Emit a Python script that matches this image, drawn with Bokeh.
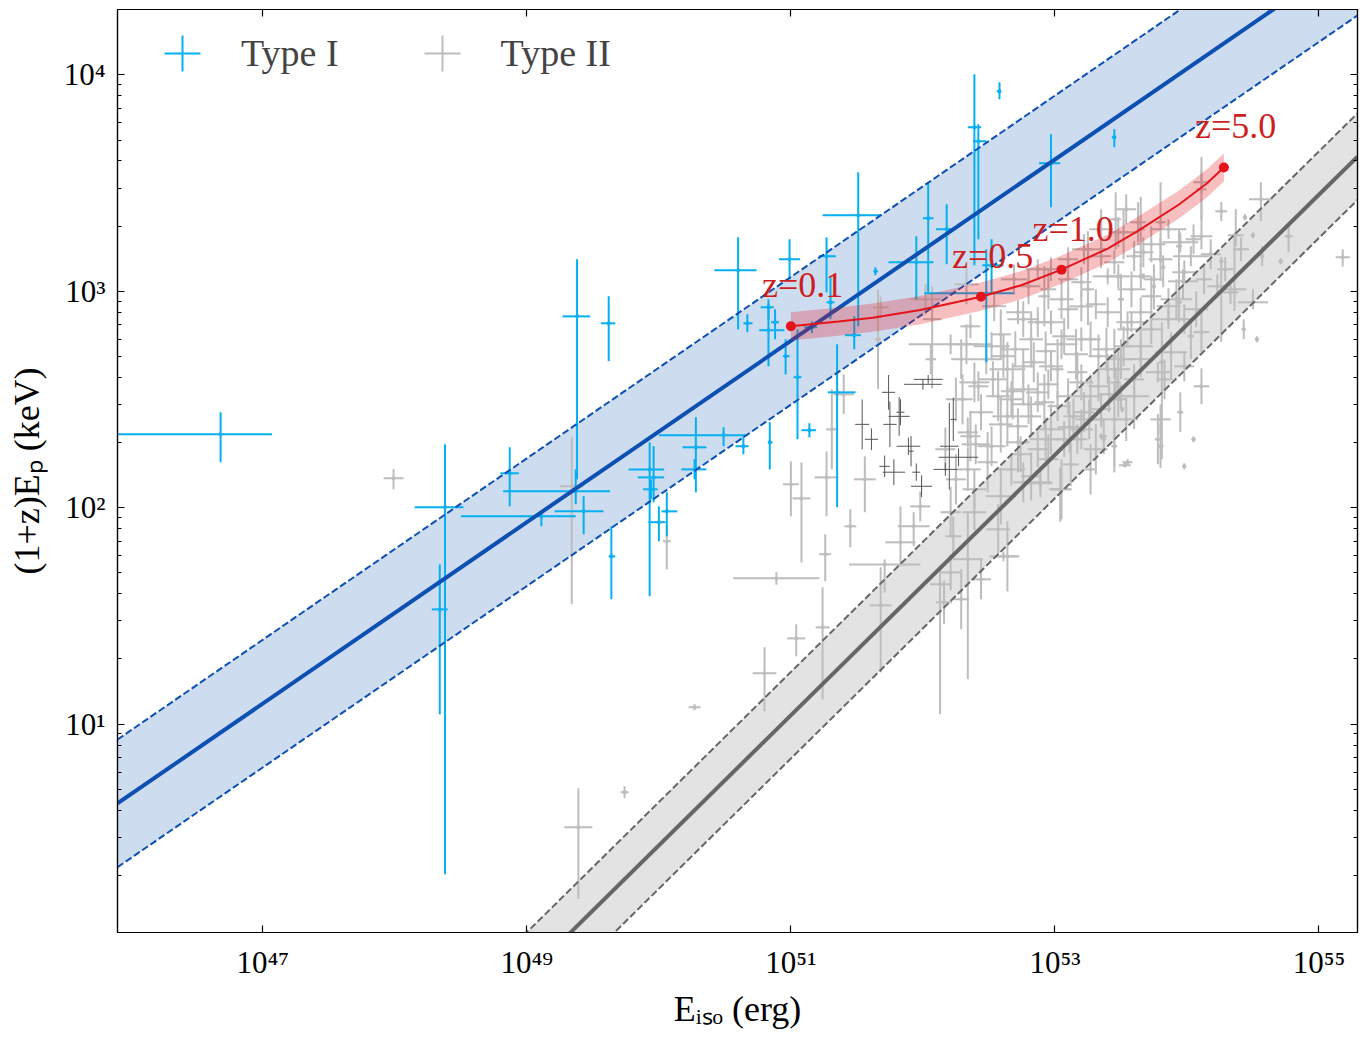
import numpy as np
from bokeh.plotting import figure
from bokeh.models import (Range1d, FixedTicker, LogAxis, CustomJSTickFormatter,
                          ColumnDataSource, Legend, LegendItem)
from bokeh.core.properties import value
from bokeh.embed import file_html
from bokeh.resources import INLINE

# ---------------- axes (log10 limits and ticks) ----------------
X_LOG_MIN, X_LOG_MAX = 45.899, 55.292
Y_LOG_MIN, Y_LOG_MAX = 0.037, 4.302
X_TICKS = [1e47, 1e49, 1e51, 1e53, 1e55]
Y_TICKS = [1e1, 1e2, 1e3, 1e4]
Y_DECADES = [1e0, 1e1, 1e2, 1e3, 1e4]
Y_MINOR_MULT = [2, 3, 4, 5, 6, 7, 8, 9]

# ---------------- Type I GRBs (log10 values) ----------------
t1_logE = [46.68, 48.38, 48.34, 48.87, 49.11, 49.38, 49.37, 49.43, 49.64, 49.62,
           49.93, 49.96, 49.94, 50.00, 50.06, 50.28, 50.27, 50.49, 50.64, 50.84,
           50.60, 50.67, 50.83, 50.83, 50.88, 50.96, 51.05, 51.14, 50.99, 51.27,
           51.30, 51.16, 51.35, 51.48, 51.64, 51.51, 52.04, 52.18, 51.95, 52.48,
           52.52, 52.39, 52.42, 52.58, 52.97, 53.45]
t1_logE_lo = [45.60, 48.15, 48.28, 48.80, 48.50, 49.27, 48.82, 49.21, 49.62, 49.56,
              49.77, 49.84, 49.88, 49.92, 50.02, 50.18, 50.17, 50.00, 50.58, 50.83,
              50.42, 50.64, 50.76, 50.77, 50.85, 50.94, 51.02, 51.08, 50.91, 51.21,
              51.27, 51.10, 51.28, 51.41, 51.63, 51.24, 52.00, 52.10, 51.74, 52.01,
              52.45, 52.34, 52.38, 52.56, 52.88, 53.43]
t1_logE_hi = [47.07, 48.52, 48.40, 48.94, 49.37, 49.48, 49.63, 49.58, 49.67, 49.67,
              50.04, 50.04, 49.99, 50.05, 50.14, 50.36, 50.36, 50.66, 50.68, 50.86,
              50.74, 50.71, 50.95, 50.87, 50.91, 50.99, 51.08, 51.19, 51.07, 51.34,
              51.33, 51.20, 51.49, 51.53, 51.66, 51.68, 52.08, 52.23, 52.08, 52.69,
              52.61, 52.44, 52.48, 52.59, 53.04, 53.46]
t1_logEp = [2.339, 2.002, 1.530, 2.159, 1.960, 2.884, 2.076, 1.983, 1.775, 2.852,
            2.177, 2.140, 2.085, 1.933, 1.983, 2.279, 2.177, 2.335, 2.284, 2.302,
            3.097, 2.852, 2.820, 2.926, 2.857, 2.700, 2.603, 2.358, 3.148, 3.162,
            2.949, 2.834, 2.533, 2.797, 3.092, 3.351, 3.337, 3.287, 3.134, 2.991,
            3.120, 3.758, 3.693, 3.924, 3.591, 3.712]
t1_logEp_lo = [2.210, 0.306, 1.045, 2.006, 1.914, 2.131, 2.016, 1.877, 1.577, 2.677,
               1.591, 2.025, 2.039, 1.845, 1.868, 2.071, 2.131, 2.284, 2.247, 2.177,
               2.824, 2.811, 2.653, 2.871, 2.778, 2.616, 2.316, 2.325, 3.055, 2.995,
               2.871, 2.806, 2.002, 2.732, 3.074, 2.838, 2.995, 3.125, 2.963, 2.672,
               2.995, 3.120, 3.240, 3.887, 3.388, 3.665]
t1_logEp_hi = [2.441, 2.293, 1.738, 2.279, 1.979, 3.148, 2.177, 2.053, 1.914, 2.977,
               2.302, 2.284, 2.131, 2.006, 2.071, 2.418, 2.224, 2.372, 2.330, 2.395,
               3.250, 2.894, 2.940, 2.963, 2.917, 2.778, 2.824, 2.390, 3.240, 3.250,
               3.069, 2.861, 2.755, 2.884, 3.111, 3.550, 3.504, 3.402, 3.254, 3.194,
               3.240, 4.003, 3.772, 3.966, 3.726, 3.749]

# ---------------- Type II GRBs, scattered ones (log10, asymmetric dex errors) ----------------
t2a_logE = [47.99, 49.34, 50.06, 49.39, 49.74, 50.27, 50.80, 51.04, 51.24, 51.68,
            52.13, 50.89, 51.71, 51.00, 51.08, 51.27, 51.26, 51.45, 51.56, 52.34,
            52.61, 53.04, 52.89, 51.93, 51.83, 51.98, 52.21, 52.06, 52.33, 52.02,
            51.68, 51.66, 52.07, 51.40, 51.31, 55.18, 54.56, 54.26, 54.11, 54.44,
            54.50, 54.37, 54.77, 54.71, 54.57, 54.26, 54.50, 54.43, 54.53, 54.36,
            53.81, 53.53, 53.45, 53.37, 53.51, 53.65, 53.46, 53.86, 54.11, 54.03,
            53.94, 53.97, 53.94, 53.82, 53.67, 53.75, 53.86, 54.03, 53.88, 53.78,
            53.60, 53.46, 53.35, 53.45, 53.58, 53.50, 53.40, 53.35, 53.52]
t2a_logEp = [2.136, 2.099, 1.845, 0.523, 0.685, 1.078, 1.235, 1.396, 1.447, 1.549,
             1.646, 1.674, 1.738, 2.108, 2.043, 2.140, 1.785, 1.914, 2.131, 1.762,
             1.775, 2.085, 2.113, 1.914, 1.840, 2.006, 2.755, 2.686, 3.032, 2.963,
             2.926, 2.778, 2.871, 2.524, 2.362, 3.157, 3.425, 3.370, 3.471, 3.342,
             3.259, 3.259, 3.254, 3.139, 3.162, 3.139, 2.949, 2.824, 2.778, 3.009,
             2.672, 2.196, 2.408, 2.316, 2.455, 3.287, 3.333, 3.287, 3.254, 3.162,
             3.208, 3.046, 2.949, 3.111, 3.069, 3.023, 2.871, 2.792, 2.718, 2.626,
             2.515, 2.579, 2.408, 2.700, 2.857, 2.963, 3.069, 3.194, 3.273]
t2a_ex = [.076, .09, .03, .106, .03, .045, .09, .068, .053, .083,
          .076, .326, .27, .06, .068, .09, .045, .045, .083, .114,
          .106, .083, .09, .12, .114, .076, .318, .04, .09, .114,
          .06, .02, .07, .076, .045, .053, .09, .045, .038, .015,
          .015, .06, .03, .015, .015, .015, .114, .015, .015, .09,
          .023, .045, .023, .015, .015, .03, .04, .136, .083, .136,
          .023, .114, .023, .015, .015, .015, .13, .023, .12, .09,
          .114, .04, .09, .023, .114, .023, .114, .038, .114]
t2a_ey_dn = [.051, .545, .13, .33, .028, .014, .175, .083, .333, .31,
             .60, .03, .13, .148, .296, .18, .125, .097, .152, .555,
             .023, .15, .037, .092, .111, .069, .046, .07, .092, .069,
             .05, .23, .32, .092, .185, .042, .10, .046, .14, .014,
             .014, .05, .074, .014, .046, .374, .032, .046, .014, .10,
             .448, .01, .245, .014, .014, .17, .14, .046, .06, .046,
             .20, .083, .092, .092, .014, .106, .046, .106, .125, .046,
             .152, .069, .037, .106, .046, .139, .037, .069, .125]
t2a_ey_up = [.042, .226, .07, .18, .028, .014, .12, .065, .185, .176,
             .083, .028, .023, .106, .166, .12, .092, .079, .106, .217,
             .023, .10, .037, .065, .166, .069, .046, .07, .092, .069,
             .05, .23, .15, .092, .185, .037, .079, .042, .15, .014,
             .014, .12, .055, .014, .046, .02, .06, .046, .014, .263,
             .185, .01, .171, .014, .014, .15, .125, .046, .171, .046,
             .08, .055, .06, .055, .014, .08, .046, .08, .092, .046,
             .092, .069, .037, .125, .046, .116, .037, .069, .106]

# ---------------- Type II GRBs, dense core (log10, symmetric dex errors) ----------------
t2b_logE = [52.69, 52.76, 52.92, 52.97, 53.10, 53.25, 53.20, 53.40, 53.33, 52.52,
            52.64, 52.84, 53.02, 53.20, 53.40, 52.39, 52.57, 52.76, 52.92, 53.10,
            53.27, 52.44, 52.64, 52.82, 52.97, 53.14, 52.36, 52.52, 52.72, 52.87,
            52.34, 52.49, 52.67, 52.82, 52.39, 52.59, 52.21, 52.39, 52.76, 52.57,
            52.23, 52.64, 52.29, 52.21, 53.05, 52.89, 53.20, 53.35, 53.50, 53.48,
            53.60, 53.65, 53.55, 53.65, 53.73, 53.55, 53.45, 53.35, 53.20, 53.10,
            52.97, 53.25, 53.45, 53.60, 53.65, 52.80, 52.54, 52.36, 54.11, 53.95,
            54.05, 53.80, 53.67, 53.63, 53.48, 53.35, 53.22, 53.10, 52.95, 52.87,
            53.20, 53.48, 53.75, 53.98, 54.13, 54.23, 54.33, 53.86, 53.98, 54.11,
            53.73, 53.52, 53.65, 53.83, 53.98, 54.11, 53.95, 53.80, 53.78, 54.05,
            53.98, 53.80, 53.07, 52.87, 52.72, 52.29, 52.61, 52.76, 52.97, 53.17,
            53.33, 53.48, 52.87, 53.02, 53.22, 52.67, 52.42, 52.25, 52.72, 53.07,
            53.17, 53.37, 52.17, 52.34, 52.25, 52.95, 53.12, 53.27, 52.44, 52.16]
t2b_logEp = [3.055, 2.871, 2.977, 2.857, 2.917, 3.009, 2.778, 2.903, 2.700, 2.746,
             2.640, 2.672, 2.640, 2.579, 2.640, 2.579, 2.515, 2.547, 2.487, 2.515,
             2.515, 2.441, 2.422, 2.422, 2.362, 2.422, 2.330, 2.284, 2.302, 2.270,
             2.177, 2.210, 2.177, 2.145, 2.085, 2.053, 1.979, 1.979, 2.117, 1.900,
             1.868, 1.775, 1.577, 1.701, 2.085, 2.117, 2.362, 2.455, 2.515, 2.640,
             2.593, 2.746, 2.824, 2.903, 2.977, 2.210, 2.284, 2.330, 2.930, 3.055,
             3.102, 3.194, 3.134, 3.162, 3.069, 3.023, 2.931, 2.838, 3.504, 3.226,
             3.240, 3.319, 3.180, 3.319, 3.273, 3.162, 3.194, 3.148, 3.009, 3.102,
             3.042, 3.069, 3.055, 3.088, 3.055, 3.023, 2.995, 2.931, 2.871, 2.811,
             2.824, 2.746, 2.686, 2.593, 2.653, 2.561, 2.441, 2.408, 2.316, 2.316,
             2.191, 2.284, 2.792, 2.857, 2.903, 2.686, 2.700, 2.653, 2.653, 2.626,
             2.561, 2.501, 2.533, 2.469, 2.441, 2.501, 2.561, 2.501, 2.376, 2.316,
             2.316, 2.330, 2.270, 2.348, 2.131, 2.224, 2.200, 2.177, 1.669, 1.563]
t2b_ex = [.098, .12, .045, .098, .076, .045, .114, .098, .076, .136,
          .136, .09, .045, .09, .076, .114, .09, .106, .076, .09,
          .068, .09, .114, .076, .106, .076, .076, .106, .09, .076,
          .098, .076, .106, .076, .09, .114, .076, .09, .076, .09,
          .06, .09, .06, .076, .076, .09, .09, .076, .076, .09,
          .076, .09, .076, .09, .076, .038, .023, .015, .09, .076,
          .106, .038, .076, .06, .076, .09, .09, .076, .06, .136,
          .06, .038, .076, .06, .076, .076, .09, .076, .06, .09,
          .076, .09, .076, .09, .06, .076, .06, .09, .076, .06,
          .09, .076, .09, .06, .076, .06, .023, .076, .023, .015,
          .015, .023, .09, .076, .09, .076, .09, .076, .09, .076,
          .076, .06, .09, .076, .076, .09, .076, .076, .076, .076,
          .076, .023, .076, .076, .076, .076, .06, .045, .076, .06]
t2b_ey = [.069, .083, .139, .055, .092, .166, .055, .069, .10, .065,
          .125, .092, .139, .083, .069, .092, .116, .074, .13, .083,
          .10, .083, .139, .092, .116, .083, .116, .092, .139, .083,
          .10, .139, .074, .111, .092, .13, .116, .083, .092, .116,
          .092, .162, .139, .083, .139, .069, .092, .074, .055, .092,
          .069, .10, .083, .069, .092, .014, .092, .014, .069, .092,
          .055, .083, .055, .069, .055, .083, .069, .055, .055, .046,
          .069, .185, .069, .092, .069, .055, .069, .055, .092, .046,
          .069, .055, .069, .055, .069, .055, .055, .083, .069, .092,
          .069, .092, .083, .092, .069, .083, .092, .069, .116, .014,
          .014, .10, .083, .069, .055, .092, .10, .083, .069, .092,
          .069, .083, .092, .069, .092, .083, .069, .10, .083, .083,
          .069, .083, .10, .069, .116, .116, .10, .116, .092, .10]

# ---------------- Type II GRBs, more of the crowded core (log10, symmetric dex errors) ----------------
t2c_logE = [52.33, 52.48, 52.59, 52.70, 52.82, 52.93, 53.05, 53.16, 53.27, 53.39,
            53.50, 52.30, 52.53, 52.68, 52.80, 52.95, 53.11, 53.26, 53.41, 53.54,
            52.40, 52.59, 52.74, 52.93, 53.31, 53.05, 53.31, 53.58, 53.80, 53.92,
            54.18, 54.07, 54.29, 53.35, 53.54, 53.73, 54.41]
t2c_logEp = [2.755, 2.686, 2.801, 2.732, 2.778, 2.723, 2.755, 2.709, 2.778, 2.732,
             2.686, 2.501, 2.593, 2.538, 2.478, 2.570, 2.372, 2.408, 2.524, 2.408,
             2.293, 2.385, 2.247, 2.316, 2.270, 2.963, 2.940, 3.009, 3.148, 2.963,
             3.171, 2.917, 3.102, 3.287, 3.379, 3.217, 3.194]
t2c_ex = [.09, .12, .076, .106, .09, .076, .12, .09, .076, .106,
          .09, .076, .106, .09, .12, .076, .09, .106, .076, .09,
          .106, .09, .076, .12, .09, .09, .076, .106, .09, .12,
          .076, .09, .06, .09, .076, .106, .06]
t2c_ey = [.092, .069, .116, .083, .13, .092, .069, .116, .083, .10,
          .092, .116, .083, .13, .092, .069, .116, .092, .083, .10,
          .092, .13, .083, .10, .116, .092, .069, .083, .10, .092,
          .069, .083, .055, .092, .069, .083, .055]

# ---------------- thin dark error bars (log10, symmetric dex errors) ----------------
t3_logE = [52.00, 51.82, 51.75, 51.78, 51.91, 51.99, 52.20, 52.27, 52.17, 52.23,
           51.74, 51.83, 52.04, 51.89, 51.71, 51.95, 51.61, 51.54]
t3_logEp = [2.570, 2.422, 2.385, 2.164, 2.261, 2.099, 2.284, 2.233, 2.177, 2.408,
            2.533, 2.441, 2.593, 2.284, 2.191, 2.164, 2.316, 2.385]
t3_ex = [.144, .08, .05, .085, .02, .08, .07, .15, .09, .02,
         .05, .03, .11, .09, .04, .03, .05, .053]
t3_ey = [.025, .09, .105, .06, .07, .05, .20, .04, .03, .10,
         .08, .06, .02, .04, .05, .04, .05, .115]

# ---------------- fitted correlations (log10 Ep = norm + slope*(log10 E - pivot)) ----------------
T1_SLOPE, T1_PIVOT, T1_NORM, T1_SIG = 0.419, 47.895, 1.470, 0.295
T2_SLOPE, T2_PIVOT, T2_NORM, T2_SIG = 0.6014, 49.334, 0.039, 0.200

# ---------------- redshift track (log10 values) ----------------
track_logE = [51.00, 51.36, 51.62, 51.98, 52.44, 52.75, 53.05, 53.40, 53.62, 53.94, 54.15, 54.28]
track_logEp = [2.838, 2.860, 2.878, 2.913, 2.975, 3.029, 3.100, 3.197, 3.276, 3.401, 3.498, 3.572]
TRACK_SIG = 0.065
z_labels = ["z=0.1", "z=0.5", "z=1.0", "z=5.0"]
z_logE = [51.00, 52.44, 53.05, 54.28]
z_logEp = [2.838, 2.975, 3.100, 3.572]

# ---------------- styles ----------------
FONT = "Liberation Serif"
C_T1 = "#05aff0"
C_T2 = "#bdbdbd"
C_T3 = "#555555"
C_FIT1 = "#0b50b2"
C_FIT2 = "#666666"
C_RED = "#e5141a"
C_RED_TXT = "#cc1f1f"


def p10(a):
    return np.power(10.0, np.asarray(a, dtype=float))


def seg_source(lx, lxlo, lxhi, ly, lylo, lyhi):
    lx, lxlo, lxhi = map(np.asarray, (lx, lxlo, lxhi))
    ly, lylo, lyhi = map(np.asarray, (ly, lylo, lyhi))
    x0 = np.concatenate([p10(lxlo), p10(lx)])
    x1 = np.concatenate([p10(lxhi), p10(lx)])
    y0 = np.concatenate([p10(ly), p10(lylo)])
    y1 = np.concatenate([p10(ly), p10(lyhi)])
    return ColumnDataSource(dict(x0=x0, x1=x1, y0=y0, y1=y1))


p = figure(x_axis_type="log", y_axis_type="log",
           x_range=Range1d(10 ** X_LOG_MIN, 10 ** X_LOG_MAX),
           y_range=Range1d(10 ** Y_LOG_MIN, 10 ** Y_LOG_MAX),
           frame_width=1240, frame_height=923,
           min_border_left=117, min_border_right=4, min_border_top=9, min_border_bottom=88,
           output_backend="svg", toolbar_location=None,
           background_fill_color="white", border_fill_color="white")
p.xgrid.visible = False
p.ygrid.visible = False
p.outline_line_color = "black"
p.outline_line_width = 1.2

xs = np.array([X_LOG_MIN, X_LOG_MAX])
fit1 = T1_NORM + T1_SLOPE * (xs - T1_PIVOT)
fit2 = T2_NORM + T2_SLOPE * (xs - T2_PIVOT)

# bands
p.varea(x=p10(xs), y1=p10(fit1 - T1_SIG), y2=p10(fit1 + T1_SIG), fill_color=C_FIT1, fill_alpha=0.2)
p.varea(x=p10(xs), y1=p10(fit2 - T2_SIG), y2=p10(fit2 + T2_SIG), fill_color="#9a9a9a", fill_alpha=0.28)

# Type II error bars
a = np.asarray
src2a = seg_source(t2a_logE, a(t2a_logE) - a(t2a_ex), a(t2a_logE) + a(t2a_ex),
                   t2a_logEp, a(t2a_logEp) - a(t2a_ey_dn), a(t2a_logEp) + a(t2a_ey_up))
src2b = seg_source(t2b_logE, a(t2b_logE) - a(t2b_ex), a(t2b_logE) + a(t2b_ex),
                   t2b_logEp, a(t2b_logEp) - a(t2b_ey), a(t2b_logEp) + a(t2b_ey))
src2c = seg_source(t2c_logE, a(t2c_logE) - a(t2c_ex), a(t2c_logE) + a(t2c_ex),
                   t2c_logEp, a(t2c_logEp) - a(t2c_ey), a(t2c_logEp) + a(t2c_ey))
src3 = seg_source(t3_logE, a(t3_logE) - a(t3_ex), a(t3_logE) + a(t3_ex),
                  t3_logEp, a(t3_logEp) - a(t3_ey), a(t3_logEp) + a(t3_ey))
for s in (src2a, src2b, src2c):
    p.segment(x0="x0", y0="y0", x1="x1", y1="y1", source=s, line_color=C_T2, line_width=2)
for lx, ly in ((t2a_logE, t2a_logEp), (t2b_logE, t2b_logEp), (t2c_logE, t2c_logEp)):
    p.scatter(x=p10(lx), y=p10(ly), size=4, fill_color=C_T2, line_color=None)
p.segment(x0="x0", y0="y0", x1="x1", y1="y1", source=src3, line_color=C_T3, line_width=1)

# Type I error bars
src1 = seg_source(t1_logE, t1_logE_lo, t1_logE_hi, t1_logEp, t1_logEp_lo, t1_logEp_hi)
p.segment(x0="x0", y0="y0", x1="x1", y1="y1", source=src1, line_color=C_T1, line_width=2)
p.scatter(x=p10(t1_logE), y=p10(t1_logEp), size=4, fill_color=C_T1, line_color=None)

# fit lines
p.line(p10(xs), p10(fit1), line_color=C_FIT1, line_width=4)
p.line(p10(xs), p10(fit1 + T1_SIG), line_color=C_FIT1, line_width=2, line_dash="7 3")
p.line(p10(xs), p10(fit1 - T1_SIG), line_color=C_FIT1, line_width=2, line_dash="7 3")
p.line(p10(xs), p10(fit2), line_color=C_FIT2, line_width=4)
p.line(p10(xs), p10(fit2 + T2_SIG), line_color=C_FIT2, line_width=2, line_dash="7 3")
p.line(p10(xs), p10(fit2 - T2_SIG), line_color=C_FIT2, line_width=2, line_dash="7 3")

# redshift track
tl = np.asarray(track_logEp)
p.varea(x=p10(track_logE), y1=p10(tl - TRACK_SIG), y2=p10(tl + TRACK_SIG), fill_color=C_RED, fill_alpha=0.27)
p.line(p10(track_logE), p10(track_logEp), line_color=C_RED, line_width=2)
p.scatter(x=p10(z_logE), y=p10(z_logEp), size=10, fill_color=C_RED, line_color=None)
p.text(x=p10(z_logE), y=p10(z_logEp), text=z_labels, x_offset=-29, y_offset=-41,
       text_font=value(FONT), text_font_size=value("36px"), text_color=C_RED_TXT,
       text_align="left", text_baseline="middle")

# axes
sup_js = """
const sup = {"0":"\u2070","1":"\u00b9","2":"\u00b2","3":"\u00b3","4":"\u2074",
             "5":"\u2075","6":"\u2076","7":"\u2077","8":"\u2078","9":"\u2079","-":"\u207b"};
const e = Math.round(Math.log10(tick));
return "10" + String(e).split("").map(c => sup[c]).join("");
"""
y_minor = [m * d for d in Y_DECADES for m in Y_MINOR_MULT]


def style(ax):
    ax.major_tick_in = 7
    ax.major_tick_out = 0
    ax.minor_tick_in = 4
    ax.minor_tick_out = 0
    ax.axis_line_width = 1.2
    ax.major_tick_line_width = 1.2
    ax.minor_tick_line_width = 1
    ax.major_label_text_font = FONT
    ax.major_label_text_font_size = "31px"
    ax.major_label_text_color = "black"
    ax.axis_label_text_font = FONT
    ax.axis_label_text_font_size = "36px"
    ax.axis_label_text_font_style = "normal"
    ax.axis_label_text_color = "black"


xa = p.below[0]
ya = p.left[0]
xa.ticker = FixedTicker(ticks=X_TICKS, minor_ticks=[])
ya.ticker = FixedTicker(ticks=Y_TICKS, minor_ticks=y_minor)
xa.formatter = CustomJSTickFormatter(code=sup_js)
ya.formatter = CustomJSTickFormatter(code=sup_js)
style(xa)
style(ya)
xa.major_label_standoff = 12
ya.major_label_standoff = 12
xa.axis_label = "E\u1d62\u209b\u2092 (erg)"
ya.axis_label = "(1+z)E\u209a (keV)"
xa.axis_label_standoff = 6
ya.axis_label_standoff = 14

top = LogAxis(ticker=FixedTicker(ticks=X_TICKS, minor_ticks=[]))
right = LogAxis(ticker=FixedTicker(ticks=Y_TICKS, minor_ticks=y_minor))
for ax in (top, right):
    style(ax)
    ax.formatter = CustomJSTickFormatter(code="return '';")
    ax.major_label_text_font_size = "1px"
    ax.major_label_standoff = 0
p.add_layout(top, "above")
p.add_layout(right, "right")

# legend
r_l1 = p.scatter(x=[10 ** 40], y=[10 ** -5], marker="cross", size=36, line_color=C_T1, line_width=2)
r_l2 = p.scatter(x=[10 ** 40], y=[10 ** -5], marker="cross", size=36, line_color=C_T2, line_width=2)
legend = Legend(items=[LegendItem(label="Type I", renderers=[r_l1]),
                       LegendItem(label="Type II", renderers=[r_l2])],
                orientation="horizontal", location=(20, 834),
                glyph_width=90, glyph_height=90, label_standoff=14, spacing=58,
                padding=0, margin=0, border_line_color=None, background_fill_alpha=0,
                label_text_font=FONT, label_text_font_size="38px")
p.add_layout(legend)

open("out.html", "w").write(file_html(p, INLINE))
